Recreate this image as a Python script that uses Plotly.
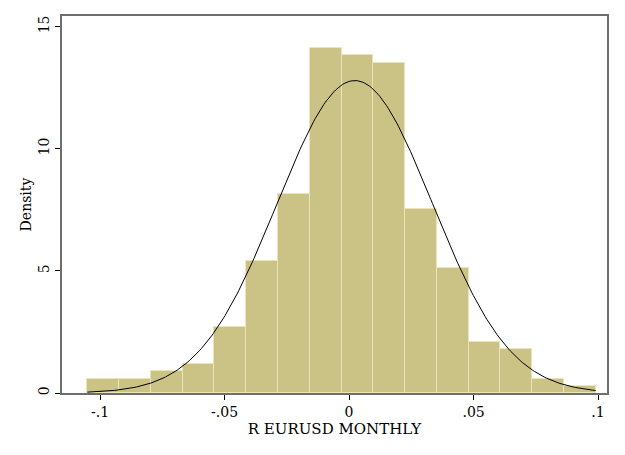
import numpy as np
import plotly.graph_objects as go

# Histogram data (density per bin)
bin_start = -0.1051
bin_width = 0.01276
density = [0.586, 0.586, 0.886, 1.20, 2.70, 5.42, 8.13, 14.11,
           13.82, 13.52, 7.54, 5.12, 2.10, 1.80, 0.586, 0.30]

# Normal overlay parameters
norm_mean = 0.0023
norm_sd = 0.0312

x_tickvals = [-0.1, -0.05, 0, 0.05, 0.1]
x_ticktext = ["-.1", "-.05", "0", ".05", ".1"]
y_tickvals = [0, 5, 10, 15]
y_ticktext = ["0", "5", "10", "15"]

n = len(density)
centers = [bin_start + bin_width * (i + 0.5) for i in range(n)]
x_min = bin_start
x_max = bin_start + bin_width * n
xs = np.linspace(x_min, x_max, 300)
ys = np.exp(-0.5 * ((xs - norm_mean) / norm_sd) ** 2) / (norm_sd * np.sqrt(2 * np.pi))

fig = go.Figure()
fig.add_trace(go.Bar(
    x=centers, y=density, width=[bin_width] * n,
    marker=dict(color="#CAC385", line=dict(color="#EAE6B8", width=1)),
    showlegend=False, hoverinfo="skip",
))
fig.add_trace(go.Scatter(
    x=xs, y=ys, mode="lines",
    line=dict(color="black", width=1),
    showlegend=False, hoverinfo="skip",
))

font_family = "DejaVu Serif"
fig.update_layout(
    width=625, height=455,
    margin=dict(l=62, r=18, t=16, b=62),
    paper_bgcolor="white", plot_bgcolor="white",
    bargap=0,
    font=dict(family=font_family, size=14, color="black"),
    xaxis=dict(
        range=[-0.1153, 0.1036],
        tickvals=x_tickvals, ticktext=x_ticktext,
        ticks="outside", ticklen=5, tickwidth=1, tickcolor="black",
        showline=True, linecolor="#6e6e6e", linewidth=2, mirror=True,
        showgrid=False, zeroline=False,
        title=dict(text="R EURUSD MONTHLY", font=dict(size=15), standoff=3),
        tickfont=dict(size=14),
    ),
    yaxis=dict(
        range=[0, 15.43],
        tickvals=y_tickvals, ticktext=y_ticktext,
        ticks="outside", ticklen=5, tickwidth=1, tickcolor="black",
        tickangle=-90,
        showline=True, linecolor="#6e6e6e", linewidth=2, mirror=True,
        showgrid=False, zeroline=False,
        title=dict(text="Density", font=dict(size=14), standoff=2),
        tickfont=dict(size=14),
    ),
)

fig.write_html("out.html")
